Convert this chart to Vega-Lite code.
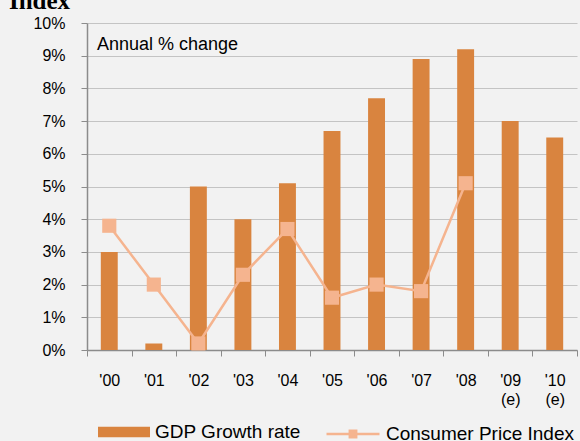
{
  "$schema": "https://vega.github.io/schema/vega-lite/v6.json",
  "width": 490,
  "height": 327,
  "autosize": {"type": "none"},
  "padding": {"left": 87, "top": 23, "right": 3, "bottom": 91},
  "background": "#f2f2f2",
  "title": {"text": "Index", "anchor": "start", "frame": "bounds", "font": "Liberation Serif", "fontSize": 25, "fontWeight": "bold", "color": "#000000", "offset": 0, "dx": -24, "dy": -1},
  "data": {"values": [
    {"year": "'00", "series": "GDP Growth rate", "value": 3.0},
    {"year": "'01", "series": "GDP Growth rate", "value": 0.2},
    {"year": "'02", "series": "GDP Growth rate", "value": 5.0},
    {"year": "'03", "series": "GDP Growth rate", "value": 4.0},
    {"year": "'04", "series": "GDP Growth rate", "value": 5.1},
    {"year": "'05", "series": "GDP Growth rate", "value": 6.7},
    {"year": "'06", "series": "GDP Growth rate", "value": 7.7},
    {"year": "'07", "series": "GDP Growth rate", "value": 8.9},
    {"year": "'08", "series": "GDP Growth rate", "value": 9.2},
    {"year": "'09 (e)", "series": "GDP Growth rate", "value": 7.0},
    {"year": "'10 (e)", "series": "GDP Growth rate", "value": 6.5},
    {"year": "'00", "series": "Consumer Price Index", "value": 3.8},
    {"year": "'01", "series": "Consumer Price Index", "value": 2.0},
    {"year": "'02", "series": "Consumer Price Index", "value": 0.2},
    {"year": "'03", "series": "Consumer Price Index", "value": 2.3},
    {"year": "'04", "series": "Consumer Price Index", "value": 3.7},
    {"year": "'05", "series": "Consumer Price Index", "value": 1.6},
    {"year": "'06", "series": "Consumer Price Index", "value": 2.0},
    {"year": "'07", "series": "Consumer Price Index", "value": 1.8},
    {"year": "'08", "series": "Consumer Price Index", "value": 5.1}
  ]},
  "config": {
    "font": "Liberation Sans",
    "view": {"stroke": null},
    "axis": {"labelFont": "Liberation Sans", "labelColor": "#000000", "labelFontSize": 16, "domainColor": "#8c8c8c", "tickColor": "#8c8c8c", "gridColor": "#c4c4c4", "title": null}
  },
  "encoding": {
    "x": {"field": "year", "type": "ordinal", "sort": null,
      "scale": {"paddingInner": 0, "paddingOuter": 0},
      "axis": {"labelAngle": 0, "tickBand": "extent", "tickSize": 6, "labelPadding": 16, "grid": false, "labelExpr": "split(datum.label, ' ')", "labelLineHeight": 19, "domainWidth": 1.5}}
  },
  "layer": [
    {
      "transform": [{"filter": "datum.series == 'GDP Growth rate'"}],
      "mark": {"type": "bar", "width": {"band": 0.38}},
      "encoding": {
        "y": {"field": "value", "type": "quantitative", "scale": {"domain": [0, 10]},
          "axis": {"tickCount": 10, "labelExpr": "datum.value + '%'", "tickSize": 6, "labelPadding": 16, "domainWidth": 1.5}},
        "color": {"field": "series", "type": "nominal", "scale": {"range": ["#d9843f"]},
          "legend": {"orient": "none", "legendX": 11, "legendY": 383, "title": null, "symbolType": "M-1,-0.2H1V0.2H-1Z", "symbolSize": 2704, "symbolStrokeWidth": 0, "labelFontSize": 19, "labelLimit": 400, "labelColor": "#000000", "labelFont": "Liberation Sans", "labelOffset": 5}}
      }
    },
    {
      "transform": [{"filter": "datum.series == 'Consumer Price Index'"}],
      "mark": {"type": "line", "strokeWidth": 2.5, "point": {"shape": "square", "size": 200, "filled": true}},
      "encoding": {
        "y": {"field": "value", "type": "quantitative"},
        "color": {"field": "series", "type": "nominal", "scale": {"range": ["#f5b48f"]},
          "legend": {"orient": "none", "legendX": 238, "legendY": 383, "title": null, "symbolType": "M-1,0H1M-0.12,-0.12H0.12V0.12H-0.12Z", "symbolSize": 2809, "symbolStrokeWidth": 2.5, "symbolFillColor": "#f5b48f", "symbolStrokeColor": "#f5b48f", "labelFontSize": 19, "labelLimit": 400, "labelColor": "#000000", "labelFont": "Liberation Sans", "labelOffset": 5}}
      }
    },
    {
      "data": {"values": [{"label": "Annual % change"}]},
      "mark": {"type": "text", "align": "left", "baseline": "middle", "fontSize": 18, "font": "Liberation Sans", "color": "#000000", "dx": 10},
      "encoding": {
        "x": {"datum": "'00", "bandPosition": 0},
        "y": {"datum": 9.33},
        "text": {"field": "label"}
      }
    }
  ],
  "resolve": {"scale": {"color": "independent"}}
}
